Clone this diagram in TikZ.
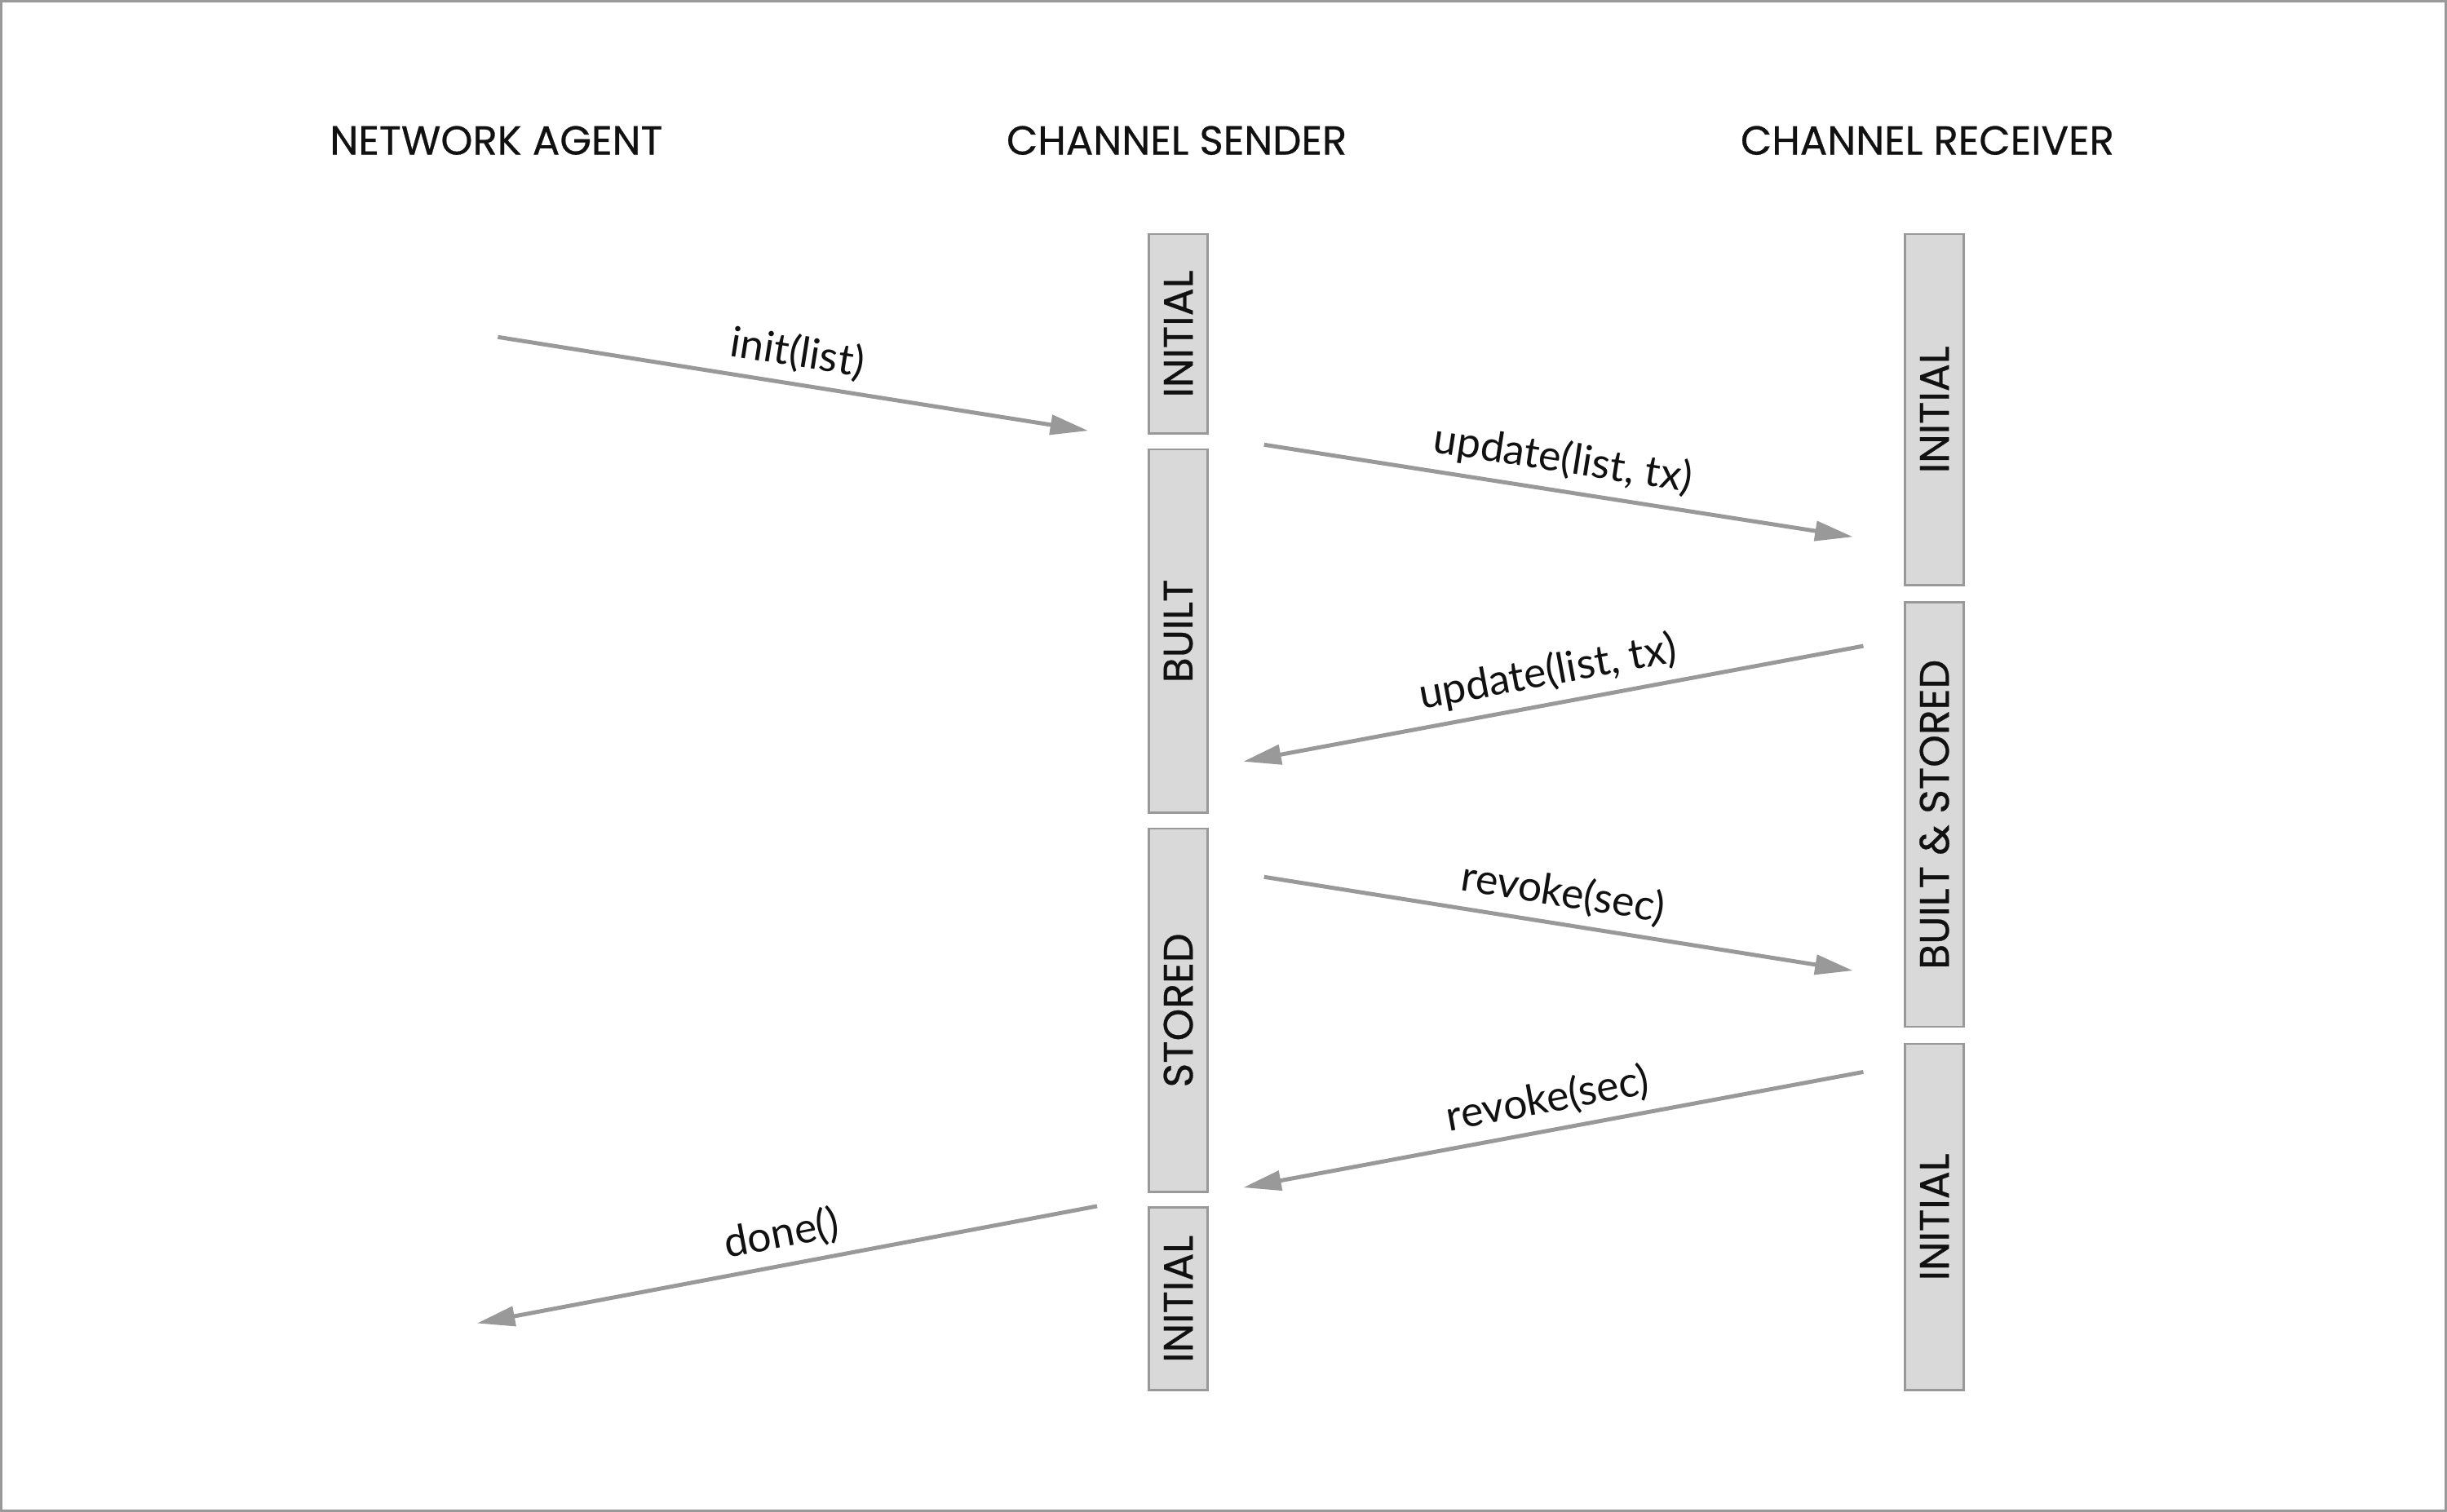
\documentclass[tikz,border=0pt]{standalone}
\usepackage{fontspec}
\setmainfont{Poppins}[FakeBold=0.5]
\newfontfamily\lblfont{Lato}
\usetikzlibrary{arrows.meta}
\definecolor{linegray}{HTML}{999999}
\definecolor{boxfill}{HTML}{D9D9D9}
\definecolor{txt}{HTML}{111111}
\tikzset{
  title/.style={font=\fontsize{13}{15}\selectfont, text=txt, inner sep=0pt},
  statebox/.style={draw=linegray, fill=boxfill, line width=0.75pt, rotate=90,
    minimum height=19pt, inner sep=0pt, font=\fontsize{13.2}{15}\selectfont, text=txt},
  msg/.style={draw=linegray, line width=1.3pt,
    -{Triangle[length=12pt, width=6.5pt, fill=linegray, line width=0.5pt]}},
  msglabel/.style={midway, above=3pt, sloped, font=\lblfont\fontsize{13.5}{15}\selectfont, text=txt, inner sep=0pt}
}
\begin{document}
\begin{tikzpicture}[x=0.5pt, y=-0.5pt]
\useasboundingbox (0,0) rectangle (1568,969);
\draw[linegray, line width=0.7pt] (0.7,0.7) rectangle (1567.3,968.3);

% titles
\node[title] (na) at (318,90) {NETWORK AGENT};
\node[title] (cs) at (754,90) {CHANNEL SENDER};
\node[title] (cr) at (1235,90) {CHANNEL RECEIVER};

% sender states
\node[statebox, minimum width=64pt]   (s1) at (755,214)   {INITIAL};
\node[statebox, minimum width=116.5pt] (s2) at (755,404.5) {BUILT};
\node[statebox, minimum width=116.5pt] (s3) at (755,647.5) {STORED};
\node[statebox, minimum width=58.5pt] (s4) at (755,832.5) {INITIAL};

% receiver states
\node[statebox, minimum width=112.5pt] (r1) at (1239.5,262.5) {INITIAL};
\node[statebox, minimum width=136pt]   (r2) at (1239.5,522)   {BUILT \& STORED};
\node[statebox, minimum width=111pt]   (r3) at (1239.5,780)   {INITIAL};

% message end points
\coordinate (a1) at (319,216);  \coordinate (b1) at (697,276);
\coordinate (a2) at (810,285);  \coordinate (b2) at (1187,344);
\coordinate (a3) at (1194,414); \coordinate (b3) at (797,488);
\coordinate (a4) at (810,562);  \coordinate (b4) at (1187,622);
\coordinate (a5) at (1194,687); \coordinate (b5) at (797,761);
\coordinate (a6) at (703,773);  \coordinate (b6) at (306,848);

\draw[msg] (a1) -- node[msglabel] {init(list)} (b1);
\draw[msg] (a2) -- node[msglabel] {update(list, tx)} (b2);
\draw[msg] (a3) -- node[msglabel] {update(list, tx)} (b3);
\draw[msg] (a4) -- node[msglabel] {revoke(sec)} (b4);
\draw[msg] (a5) -- node[msglabel] {revoke(sec)} (b5);
\draw[msg] (a6) -- node[msglabel] {done()} (b6);
\end{tikzpicture}
\end{document}
